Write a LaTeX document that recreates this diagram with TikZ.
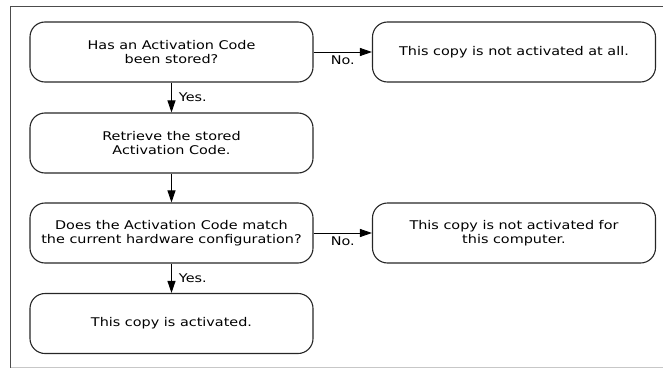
\documentclass[tikz,border=0pt]{standalone}
\usepackage{fontspec}
\setmainfont{DejaVu Sans}[FakeStretch=1.2]
\usetikzlibrary{arrows.meta}
\begin{document}
\begin{tikzpicture}[x=1pt,y=-1pt,
  stepbox/.style={draw=black!85, line width=1.1pt, rounded corners=15pt,
    minimum width=283pt, minimum height=60pt, align=center, inner sep=0pt,
    font=\fontsize{12}{13.5}\selectfont},
  flow/.style={draw=black, line width=0.9pt, -{Triangle[length=12pt,width=8pt]}},
  lbl/.style={font=\fontsize{12}{13.5}\selectfont, inner sep=0pt}]
  \useasboundingbox (0,0) rectangle (663,369);
  % frame
  \draw[draw=black!70, line width=1pt] (663,6.5) -- (10.5,6.5) -- (10.5,368);
  \draw[draw=black!22, line width=1.2pt] (10.5,367.5) -- (663,367.5);
  % boxes
  \node[stepbox] (q1) at (171.5,52) {Has an Activation Code\\been stored?};
  \node[stepbox] (no1) at (514,52) {This copy is not activated at all.};
  \node[stepbox] (get) at (171.5,143) {Retrieve the stored\\Activation Code.};
  \node[stepbox] (q2) at (171.5,233) {Does the Activation Code match\\the current hardware configuration?};
  \node[stepbox] (no2) at (514,233) {This copy is not activated for\\this computer.};
  \node[stepbox] (ok) at (171.5,323.5) {This copy is activated.};
  % connectors
  \draw[flow] (q1) -- node[lbl, right=7pt] {Yes.} (get);
  \draw[flow] (get) -- (q2);
  \draw[flow] (q2) -- node[lbl, right=7pt] {Yes.} (ok);
  \draw[flow] (q1) -- node[lbl, below=3pt] {No.} (no1);
  \draw[flow] (q2) -- node[lbl, below=3pt] {No.} (no2);
\end{tikzpicture}
\end{document}
